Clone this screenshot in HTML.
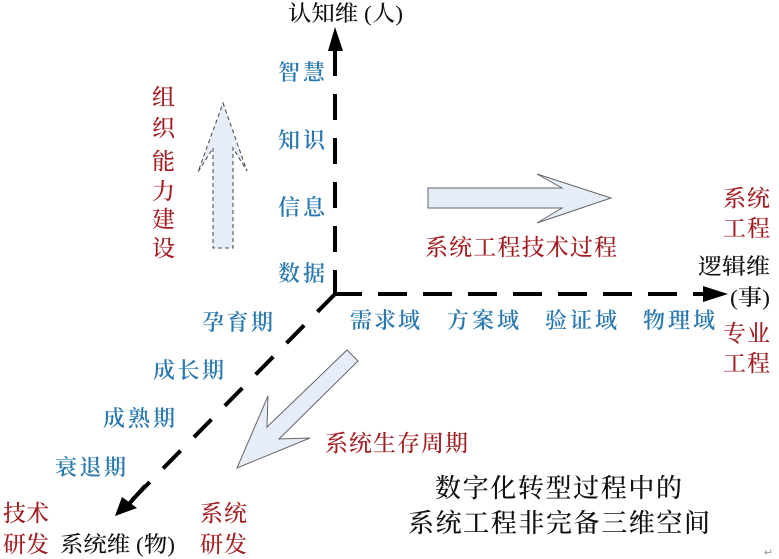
<!DOCTYPE html>
<html>
<head>
<meta charset="utf-8">
<style>
html,body{margin:0;padding:0;background:#fff;}
svg{display:block;}
text{font-family:"Liberation Serif","Noto Serif CJK SC",serif;}
.b{fill:#2a78b0;font-size:22px;font-weight:600;}
.r{fill:#a11d21;font-size:23px;font-weight:500;}
.k{fill:#111;font-size:22px;font-weight:500;}
</style>
</head>
<body>
<svg width="779" height="559" viewBox="0 0 779 559" xmlns="http://www.w3.org/2000/svg">
<rect width="779" height="559" fill="#fff"/>

<!-- light arrows -->
<polygon points="223,103 247,171 233,148 233,248 213,248 213,148 198,172" fill="#e6edf8" stroke="#444" stroke-width="1" stroke-dasharray="4 3"/>
<polygon points="428,188 562,188 537,174 611,198 537,223 562,208 428,208" fill="#e6edf8" stroke="#666" stroke-width="1"/>
<polygon points="347,350 358,361 279,439 310,438 237,468 268,396 267,427" fill="#e6edf8" stroke="#666" stroke-width="1"/>

<!-- axes -->
<line x1="335" y1="50" x2="335" y2="296" stroke="#000" stroke-width="4" stroke-dasharray="26 18"/>
<polygon points="335,27 328,51 343,51" fill="#000"/>
<line x1="333" y1="294" x2="705" y2="294" stroke="#000" stroke-width="4" stroke-dasharray="29 16"/>
<polygon points="728,294 703,286 703,302" fill="#000"/>
<line x1="335" y1="294" x2="132" y2="500" stroke="#000" stroke-width="4" stroke-dasharray="25 19"/>
<polygon points="115,516 122,497 137,508" fill="#000"/>
<line x1="128" y1="505" x2="145" y2="486" stroke="#000" stroke-width="4"/>

<!-- axis labels -->
<text class="k" x="288" y="21" font-size="21" textLength="115" lengthAdjust="spacingAndGlyphs">认知维 (人)</text>
<text class="k" x="698" y="274" textLength="72" lengthAdjust="spacingAndGlyphs">逻辑维</text>
<text class="k" x="730" y="305" font-weight="700" textLength="40" lengthAdjust="spacingAndGlyphs">(事)</text>
<text class="k" x="60" y="552" textLength="115" lengthAdjust="spacingAndGlyphs">系统维 (物)</text>

<!-- blue vertical -->
<text class="b" x="278" y="80" textLength="47" lengthAdjust="spacing">智慧</text>
<text class="b" x="278" y="148" textLength="47" lengthAdjust="spacing">知识</text>
<text class="b" x="278" y="215" textLength="47" lengthAdjust="spacing">信息</text>
<text class="b" x="278" y="281" textLength="47" lengthAdjust="spacing">数据</text>

<!-- blue horizontal -->
<text class="b" x="350" y="328" textLength="70" lengthAdjust="spacing">需求域</text>
<text class="b" x="447" y="328" textLength="72" lengthAdjust="spacing">方案域</text>
<text class="b" x="545" y="328" textLength="72" lengthAdjust="spacing">验证域</text>
<text class="b" x="643" y="328" textLength="72" lengthAdjust="spacing">物理域</text>

<!-- blue diagonal -->
<text class="b" x="202" y="330" textLength="71" lengthAdjust="spacing">孕育期</text>
<text class="b" x="153" y="378" textLength="71" lengthAdjust="spacing">成长期</text>
<text class="b" x="103" y="426" textLength="72" lengthAdjust="spacing">成熟期</text>
<text class="b" x="55" y="475" textLength="71" lengthAdjust="spacing">衰退期</text>

<!-- red vertical -->
<text class="r" x="152" y="105">组</text>
<text class="r" x="152" y="136">织</text>
<text class="r" x="152" y="169">能</text>
<text class="r" x="152" y="199">力</text>
<text class="r" x="152" y="227">建</text>
<text class="r" x="152" y="256">设</text>

<!-- red others -->
<text class="r" x="425" y="255" textLength="192" lengthAdjust="spacing">系统工程技术过程</text>
<text class="r" x="723" y="206" textLength="47" lengthAdjust="spacing">系统</text>
<text class="r" x="723" y="236" textLength="47" lengthAdjust="spacing">工程</text>
<text class="r" x="723" y="341" textLength="47" lengthAdjust="spacing">专业</text>
<text class="r" x="723" y="371" textLength="47" lengthAdjust="spacing">工程</text>
<text class="r" x="325" y="451" textLength="143" lengthAdjust="spacing">系统生存周期</text>
<text class="r" x="3" y="521" textLength="46" lengthAdjust="spacing">技术</text>
<text class="r" x="3" y="552" textLength="46" lengthAdjust="spacing">研发</text>
<text class="r" x="200" y="521" textLength="47" lengthAdjust="spacing">系统</text>
<text class="r" x="200" y="552" textLength="47" lengthAdjust="spacing">研发</text>

<!-- caption -->
<text x="435" y="497" font-size="26" font-weight="500" fill="#111" textLength="247" lengthAdjust="spacing">数字化转型过程中的</text>
<text x="408" y="532" font-size="26" font-weight="500" fill="#111" textLength="302" lengthAdjust="spacing">系统工程非完备三维空间</text>

<text x="764" y="556" font-size="11" fill="#999" font-family="DejaVu Sans, sans-serif">↵</text>
</svg>
</body>
</html>
